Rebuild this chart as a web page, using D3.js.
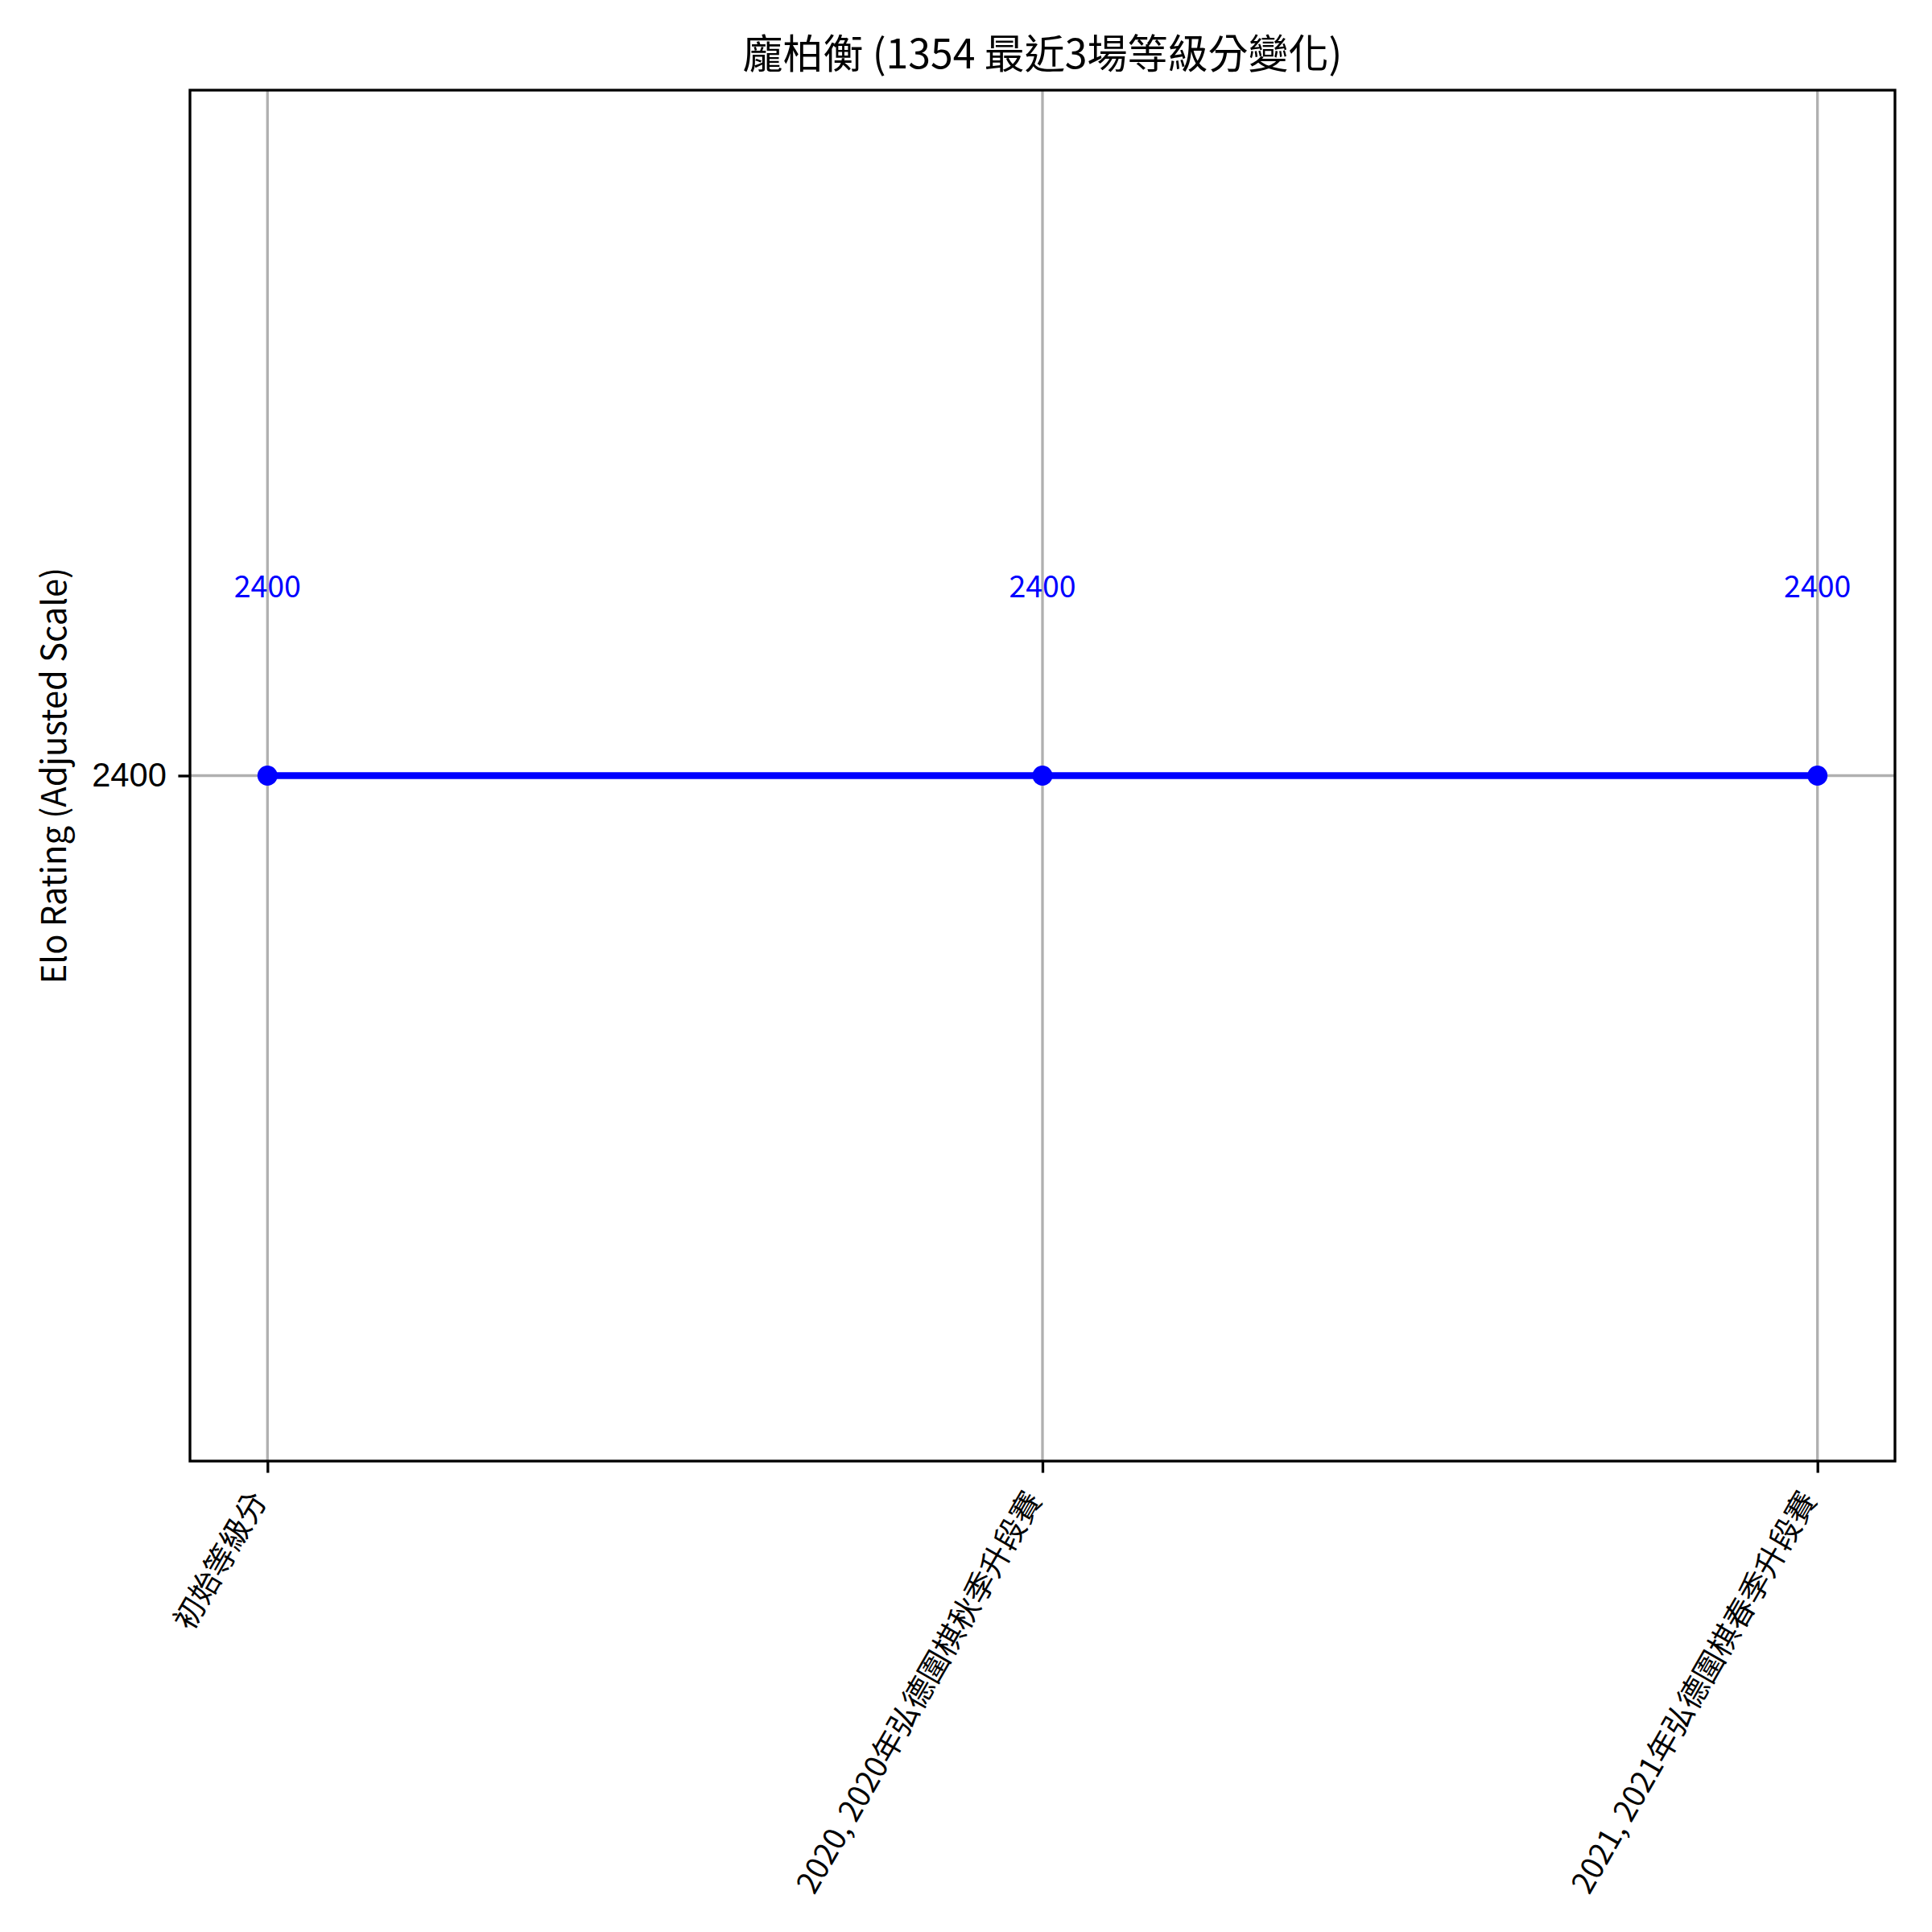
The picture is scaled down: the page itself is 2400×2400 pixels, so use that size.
<!DOCTYPE html>
<html>
<head>
<meta charset="utf-8">
<script src="https://cdn.jsdelivr.net/npm/d3@7"></script>
<style>
  html, body { margin: 0; padding: 0; background: #fff; }
  svg { display: block; }
</style>
</head>
<body>
<script>
// ---- data ----
const categories = ["初始等級分", "2020, 2020年弘德圍棋秋季升段賽", "2021, 2021年弘德圍棋春季升段賽"];
const ratings = [2400, 2400, 2400];
const yTickValues = [2400];
const titleText = "龐柏衡 (1354 最近3場等級分變化)";
const yLabelText = "Elo Rating (Adjusted Scale)";

// ---- layout ----
const W = 2400, H = 2400;
const margin = { left: 236, right: 46, top: 112, bottom: 585 };
const pt = 300 / 72;
const cjk = "'Noto Sans CJK TC', 'Noto Sans', sans-serif";

const svg = d3.select("body").append("svg")
  .attr("width", W).attr("height", H)
  .attr("viewBox", `0 0 ${W} ${H}`);
svg.append("rect").attr("width", W).attr("height", H).attr("fill", "#fff");

const x0 = margin.left, x1 = W - margin.right, y0 = margin.top, y1 = H - margin.bottom;

const idx = categories.map((_, i) => i);
const x = d3.scaleLinear().domain([-0.1, categories.length - 1 + 0.1]).range([x0, x1]);
const yMin = d3.min(ratings), yMax = d3.max(ratings);
const y = d3.scaleLinear().domain([yMin - 50, yMax + 50]).range([y1, y0]);

// grid
const grid = svg.append("g").attr("class", "grid");
grid.selectAll("line.vx").data(idx).join("line")
  .attr("x1", d => x(d)).attr("x2", d => x(d))
  .attr("y1", y0).attr("y2", y1)
  .attr("stroke", "#b0b0b0").attr("stroke-width", 0.8 * pt);
grid.selectAll("line.hy").data(yTickValues).join("line")
  .attr("x1", x0).attr("x2", x1)
  .attr("y1", d => y(d)).attr("y2", d => y(d))
  .attr("stroke", "#b0b0b0").attr("stroke-width", 0.8 * pt);

// line + markers
const pts = ratings.map((v, i) => [i, v]);
svg.append("path")
  .attr("d", d3.line().x(d => x(d[0])).y(d => y(d[1]))(pts))
  .attr("fill", "none").attr("stroke", "#0000ff").attr("stroke-width", 2 * pt);
svg.selectAll("circle.pt").data(pts).join("circle")
  .attr("cx", d => x(d[0])).attr("cy", d => y(d[1]))
  .attr("r", 3 * pt).attr("fill", "#0000ff");

// annotations
svg.selectAll("text.ann").data(pts).join("text")
  .attr("x", d => x(d[0])).attr("y", d => y(d[1]) - 222)
  .attr("text-anchor", "middle")
  .attr("font-family", cjk).attr("font-size", 9 * pt)
  .attr("fill", "#0000ff")
  .text(d => d[1]);

// axes
const xAxis = d3.axisBottom(x).tickValues(idx).tickFormat(i => categories[i])
  .tickSize(3.5 * pt).tickPadding(3.5 * pt);
const gx = svg.append("g").attr("transform", `translate(0,${y1})`).call(xAxis);
gx.select(".domain").remove();
gx.selectAll(".tick line").attr("stroke", "#000").attr("stroke-width", 0.8 * pt);
const xt = gx.selectAll(".tick text")
  .attr("font-family", cjk).attr("font-size", 10 * pt).attr("fill", "#000")
  .attr("text-anchor", "end")
  .attr("y", null).attr("dy", null);
// fit font size so the longest label has the reference's length
const targetLen = 568;
let maxLen = 0;
xt.each(function () { maxLen = Math.max(maxLen, this.getComputedTextLength()); });
const fs = 10 * pt * Math.min(1, targetLen / maxLen);
xt.attr("font-size", fs)
  .attr("transform", `translate(0, ${7 * pt + fs * 0.5}) rotate(-60)`);

const yAxis = d3.axisLeft(y).tickValues(yTickValues).tickFormat(d3.format("d"))
  .tickSize(3.5 * pt).tickPadding(3.5 * pt);
const gy = svg.append("g").attr("transform", `translate(${x0},0)`).call(yAxis);
gy.select(".domain").remove();
gy.selectAll(".tick line").attr("stroke", "#000").attr("stroke-width", 0.8 * pt);
gy.selectAll(".tick text")
  .attr("font-family", "'Liberation Sans', Arial, sans-serif").attr("font-size", 10 * pt).attr("fill", "#000");

// spines
svg.append("rect").attr("x", x0).attr("y", y0).attr("width", x1 - x0).attr("height", y1 - y0)
  .attr("fill", "none").attr("stroke", "#000").attr("stroke-width", 0.8 * pt);

// title
svg.append("text").attr("x", (x0 + x1) / 2).attr("y", y0 - 6 * pt - 2)
  .attr("text-anchor", "middle").attr("font-family", cjk).attr("font-size", 12 * pt)
  .attr("fill", "#000").text(titleText);

// y label
svg.append("text")
  .attr("transform", `translate(82,${(y0 + y1) / 2}) rotate(-90)`)
  .attr("text-anchor", "middle").attr("font-family", cjk).attr("font-size", 10 * pt)
  .attr("fill", "#000").text(yLabelText);
</script>
</body>
</html>
